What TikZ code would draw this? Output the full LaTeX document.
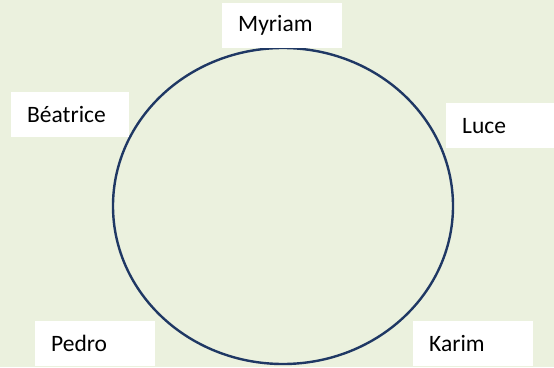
\documentclass[tikz,border=0pt]{standalone}
\usepackage{fontspec}
\setmainfont{Carlito}
\usepackage{xcolor}
\definecolor{paleGreen}{HTML}{EBF1DE}
\definecolor{ringBlue}{HTML}{1F3864}
\begin{document}
\begin{tikzpicture}[
x=1pt,y=-1pt,
namebox/.style={fill=white,anchor=north west,minimum height=45pt,text width=88pt,inner xsep=16pt,inner ysep=0pt,align=left,font=\fontsize{23.5}{26}\selectfont},
ring/.style={draw=ringBlue,line width=2.4pt}
]
\fill[paleGreen] (0,0) rectangle (554,367);
\useasboundingbox (0,0) rectangle (554,367);
\draw[ring] (283,206) ellipse [x radius=170,y radius=158];
\node[namebox] (myriam) at (222,3) {Myriam};
\node[namebox,text width=86pt] (beatrice) at (11,92) {Béatrice};
\node[namebox] (luce) at (446,103) {Luce};
\node[namebox] (pedro) at (35,321) {Pedro};
\node[namebox] (karim) at (413,321) {Karim};
\end{tikzpicture}
\end{document}
